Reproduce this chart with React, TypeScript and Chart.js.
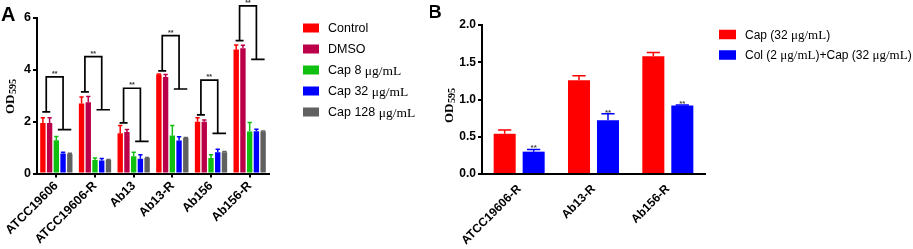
import React, { useEffect, useRef } from "react";
import { Chart, registerables } from "chart.js";

Chart.register(...registerables);

// ---------- Panel A data ----------
const categoriesA = ["ATCC19606", "ATCC19606-R", "Ab13", "Ab13-R", "Ab156", "Ab156-R"];
const seriesNamesA = ["Control", "DMSO", "Cap 8 μg/mL", "Cap 32 μg/mL", "Cap 128 μg/mL"];
const seriesColorsA = ["#ff0000", "#bb0049", "#10c010", "#0000ff", "#606060"];
const controlA = [1.95, 2.7, 1.55, 3.82, 2.0, 4.78];
const dmsoA = [1.95, 2.75, 1.6, 3.72, 2.0, 4.83];
const cap8A = [1.28, 0.52, 0.67, 1.47, 0.6, 1.62];
const cap32A = [0.77, 0.5, 0.57, 1.27, 0.82, 1.63];
const cap128A = [0.75, 0.52, 0.6, 1.37, 0.82, 1.62];
const controlErrA = [0.2, 0.25, 0.3, 0.02, 0.15, 0.18];
const dmsoErrA = [0.2, 0.22, 0.1, 0.1, 0.06, 0.12];
const cap8ErrA = [0.15, 0.08, 0.15, 0.38, 0.12, 0.35];
const cap32ErrA = [0.05, 0.08, 0.15, 0.15, 0.12, 0.08];
const cap128ErrA = [0.03, 0.02, 0.02, 0.02, 0.03, 0.02];
const bracketLeftA = [2.38, 3.15, 1.95, 3.96, 2.26, 5.13];
const bracketTopA = [3.73, 4.51, 3.29, 5.32, 3.6, 6.47];
const bracketRightA = [1.69, 2.46, 1.24, 3.26, 1.55, 4.4];
const yTicksA = [0, 2, 4, 6];

// ---------- Panel B data ----------
const categoriesB = ["ATCC19606-R", "Ab13-R", "Ab156-R"];
const seriesNamesB = ["Cap (32 μg/mL)", "Col (2 μg/mL)+Cap (32 μg/mL)"];
const seriesColorsB = ["#ff0000", "#0000ff"];
const capB = [0.54, 1.26, 1.58];
const colCapB = [0.3, 0.72, 0.92];
const capErrB = [0.05, 0.06, 0.05];
const colCapErrB = [0.03, 0.09, 0.005];
const yTicksB = [0, 0.5, 1.0, 1.5, 2.0];

const SANS = "'Liberation Sans', Arial, sans-serif";
const SERIF = "'Liberation Serif', 'Times New Roman', serif";

function drawMixedText(ctx: CanvasRenderingContext2D, text: string, x: number, y: number, size: number) {
  const parts = text.split(/(μg\/mL)/);
  let cx = x;
  ctx.textAlign = "left";
  ctx.textBaseline = "middle";
  ctx.fillStyle = "#000";
  for (const p of parts) {
    if (!p) continue;
    ctx.font = p === "μg/mL" ? `${size + 1}px ${SERIF}` : `${size}px ${SANS}`;
    ctx.fillText(p, cx, y);
    cx += ctx.measureText(p).width;
  }
}

function drawLegend(
  ctx: CanvasRenderingContext2D,
  names: string[],
  colors: string[],
  boxX: number,
  firstY: number,
  step: number,
  boxW: number,
  boxH: number,
  textX: number,
  size: number
) {
  names.forEach((n, i) => {
    const cy = firstY + i * step;
    ctx.fillStyle = colors[i];
    ctx.fillRect(boxX, cy - boxH / 2, boxW, boxH);
    drawMixedText(ctx, n, textX, cy + 1, size);
  });
}

function drawYLabel(ctx: CanvasRenderingContext2D, bx: number, by: number, big: number, small: number) {
  ctx.save();
  ctx.translate(bx, by);
  ctx.rotate(-Math.PI / 2);
  ctx.fillStyle = "#000";
  ctx.textAlign = "left";
  ctx.textBaseline = "alphabetic";
  ctx.font = `bold ${big}px ${SERIF}`;
  ctx.fillText("OD", 0, 0);
  const w = ctx.measureText("OD").width;
  ctx.font = `bold ${small}px ${SERIF}`;
  ctx.fillText("595", w + 0.5, 2);
  ctx.restore();
}

function drawErrors(chart: any, errs: number[][], capFrac: number) {
  const ctx = chart.ctx;
  const ys = chart.scales.y;
  ctx.save();
  errs.forEach((arr, d) => {
    const meta = chart.getDatasetMeta(d);
    const color = chart.data.datasets[d].backgroundColor;
    const vals = chart.data.datasets[d].data as number[];
    meta.data.forEach((bar: any, i: number) => {
      const top = ys.getPixelForValue(vals[i] + arr[i]);
      const yb = ys.getPixelForValue(vals[i]);
      const cw = bar.width * capFrac;
      ctx.strokeStyle = color;
      ctx.lineWidth = 1.5;
      ctx.beginPath();
      ctx.moveTo(bar.x, yb);
      ctx.lineTo(bar.x, top);
      ctx.moveTo(bar.x - cw / 2, top);
      ctx.lineTo(bar.x + cw / 2, top);
      ctx.stroke();
    });
  });
  ctx.restore();
}

const axisStyle = {
  grid: { display: true, drawOnChartArea: false, drawTicks: true, tickLength: 4, color: "#000", lineWidth: 2 },
  border: { display: true, color: "#000", width: 2 },
};

export default function App() {
  const refA = useRef<HTMLCanvasElement>(null);
  const refB = useRef<HTMLCanvasElement>(null);

  useEffect(() => {
    const dataA = [controlA, dmsoA, cap8A, cap32A, cap128A];
    const errA = [controlErrA, dmsoErrA, cap8ErrA, cap32ErrA, cap128ErrA];

    const pluginA = {
      id: "decorA",
      afterDatasetsDraw(chart: any) {
        drawErrors(chart, errA, 0.8);
        const ctx = chart.ctx;
        const ys = chart.scales.y;
        const metas = [0, 1, 2, 3, 4].map((d) => chart.getDatasetMeta(d));
        ctx.save();
        categoriesA.forEach((_, i) => {
          const x0 = metas[0].data[i].x;
          const x1 = metas[1].data[i].x;
          const x2 = metas[2].data[i].x;
          const x3 = metas[3].data[i].x;
          const x4 = metas[4].data[i].x;
          const lm = (x0 + x1) / 2;
          const yL = ys.getPixelForValue(bracketLeftA[i]);
          const yT = ys.getPixelForValue(bracketTopA[i]);
          const yR = ys.getPixelForValue(bracketRightA[i]);
          ctx.strokeStyle = "#000";
          ctx.lineWidth = 1.7;
          ctx.beginPath();
          ctx.moveTo(lm - 4, yL);
          ctx.lineTo(lm + 4, yL);
          ctx.moveTo(lm, yL);
          ctx.lineTo(lm, yT);
          ctx.lineTo(x3, yT);
          ctx.lineTo(x3, yR);
          ctx.moveTo(x2 + 1.5, yR);
          ctx.lineTo(x4 + 1.5, yR);
          ctx.stroke();
          ctx.fillStyle = "#333";
          ctx.font = `bold 7px ${SANS}`;
          ctx.textAlign = "center";
          ctx.textBaseline = "alphabetic";
          ctx.fillText("**", (lm + x3) / 2, yT - 1);
        });
        ctx.restore();
      },
      afterDraw(chart: any) {
        const ctx = chart.ctx;
        ctx.save();
        ctx.fillStyle = "#000";
        ctx.font = `bold 20px ${SANS}`;
        ctx.textAlign = "left";
        ctx.textBaseline = "alphabetic";
        ctx.fillText("A", 1, 21);
        drawYLabel(ctx, 13.5, 114, 13, 10);
        drawLegend(ctx, seriesNamesA, seriesColorsA, 303, 28, 21, 16, 9, 328, 12.5);
        ctx.restore();
      },
    };

    const chartA = new Chart(refA.current!, {
      type: "bar",
      data: {
        labels: categoriesA,
        datasets: dataA.map((d, i) => ({
          label: seriesNamesA[i],
          data: d,
          backgroundColor: seriesColorsA[i],
          borderWidth: 0,
          categoryPercentage: 0.87,
          barPercentage: 0.8,
        })),
      },
      options: {
        responsive: false,
        animation: false,
        events: [],
        layout: { padding: { top: 18, right: 161, left: 0, bottom: 0 } },
        plugins: { legend: { display: false }, tooltip: { enabled: false }, title: { display: false } },
        scales: {
          x: {
            ...axisStyle,
            grid: { ...axisStyle.grid, offset: false },
            ticks: {
              color: "#000",
              font: { family: SANS, size: 12.5, weight: "bold" },
              maxRotation: 45,
              minRotation: 45,
              autoSkip: false,
              padding: 1,
            },
            afterFit(scale: any) {
              scale.height = 249 - 173.5;
              scale.paddingLeft = 0;
              scale.paddingRight = 0;
            },
          },
          y: {
            ...axisStyle,
            min: 0,
            max: 6,
            afterBuildTicks(scale: any) {
              scale.ticks = yTicksA.map((v) => ({ value: v }));
            },
            ticks: {
              color: "#000",
              font: { family: SANS, size: 12.5, weight: "bold" },
              padding: 2,
            },
            afterFit(scale: any) {
              scale.width = 37;
              scale.paddingTop = 0;
              scale.paddingBottom = 0;
            },
          },
        },
      },
      plugins: [pluginA],
    } as any);

    const dataB = [capB, colCapB];
    const errB = [capErrB, colCapErrB];
    const pluginB = {
      id: "decorB",
      afterDatasetsDraw(chart: any) {
        drawErrors(chart, errB, 0.6);
        const ctx = chart.ctx;
        const ys = chart.scales.y;
        const meta = chart.getDatasetMeta(1);
        ctx.save();
        ctx.fillStyle = "#444";
        ctx.font = `bold 8px ${SANS}`;
        ctx.textAlign = "center";
        ctx.textBaseline = "alphabetic";
        meta.data.forEach((bar: any, i: number) => {
          const top = ys.getPixelForValue(colCapB[i] + colCapErrB[i]);
          ctx.fillText("**", bar.x, top + 1);
        });
        ctx.restore();
      },
      afterDraw(chart: any) {
        const ctx = chart.ctx;
        ctx.save();
        ctx.fillStyle = "#000";
        ctx.font = `bold 19px ${SANS}`;
        ctx.textAlign = "left";
        ctx.textBaseline = "alphabetic";
        ctx.fillText("B", -2, 18);
        drawYLabel(ctx, 23, 123, 13, 10);
        drawLegend(ctx, seriesNamesB, seriesColorsB, 289, 34.5, 20.5, 17, 9.5, 315, 12);
        ctx.restore();
      },
    };

    const chartB = new Chart(refB.current!, {
      type: "bar",
      data: {
        labels: categoriesB,
        datasets: dataB.map((d, i) => ({
          label: seriesNamesB[i],
          data: d,
          backgroundColor: seriesColorsB[i],
          borderWidth: 0,
          categoryPercentage: 0.78,
          barPercentage: 0.76,
        })),
      },
      options: {
        responsive: false,
        animation: false,
        events: [],
        layout: { padding: { top: 25, right: 208, left: 0, bottom: 0 } },
        plugins: { legend: { display: false }, tooltip: { enabled: false }, title: { display: false } },
        scales: {
          x: {
            ...axisStyle,
            grid: { ...axisStyle.grid, display: false },
            ticks: {
              color: "#000",
              font: { family: SANS, size: 12, weight: "bold" },
              maxRotation: 45,
              minRotation: 45,
              autoSkip: false,
              padding: 4,
            },
            afterFit(scale: any) {
              scale.height = 249 - 174;
              scale.paddingLeft = 0;
              scale.paddingRight = 0;
            },
          },
          y: {
            ...axisStyle,
            min: 0,
            max: 2,
            afterBuildTicks(scale: any) {
              scale.ticks = yTicksB.map((v) => ({ value: v }));
            },
            ticks: {
              color: "#000",
              font: { family: SANS, size: 12, weight: "bold" },
              padding: 2,
              callback: (v: any) => Number(v).toFixed(1),
            },
            afterFit(scale: any) {
              scale.width = 52;
              scale.paddingTop = 0;
              scale.paddingBottom = 0;
            },
          },
        },
      },
      plugins: [pluginB],
    } as any);

    return () => {
      chartA.destroy();
      chartB.destroy();
    };
  }, []);

  return (
    <div style={{ position: "fixed", left: 0, top: 0, width: 913, height: 249, background: "#fff" }}>
      <canvas ref={refA} width={430} height={249} style={{ position: "absolute", left: 0, top: 0, width: 430, height: 249 }} />
      <canvas ref={refB} width={483} height={249} style={{ position: "absolute", left: 430, top: 0, width: 483, height: 249 }} />
    </div>
  );
}
